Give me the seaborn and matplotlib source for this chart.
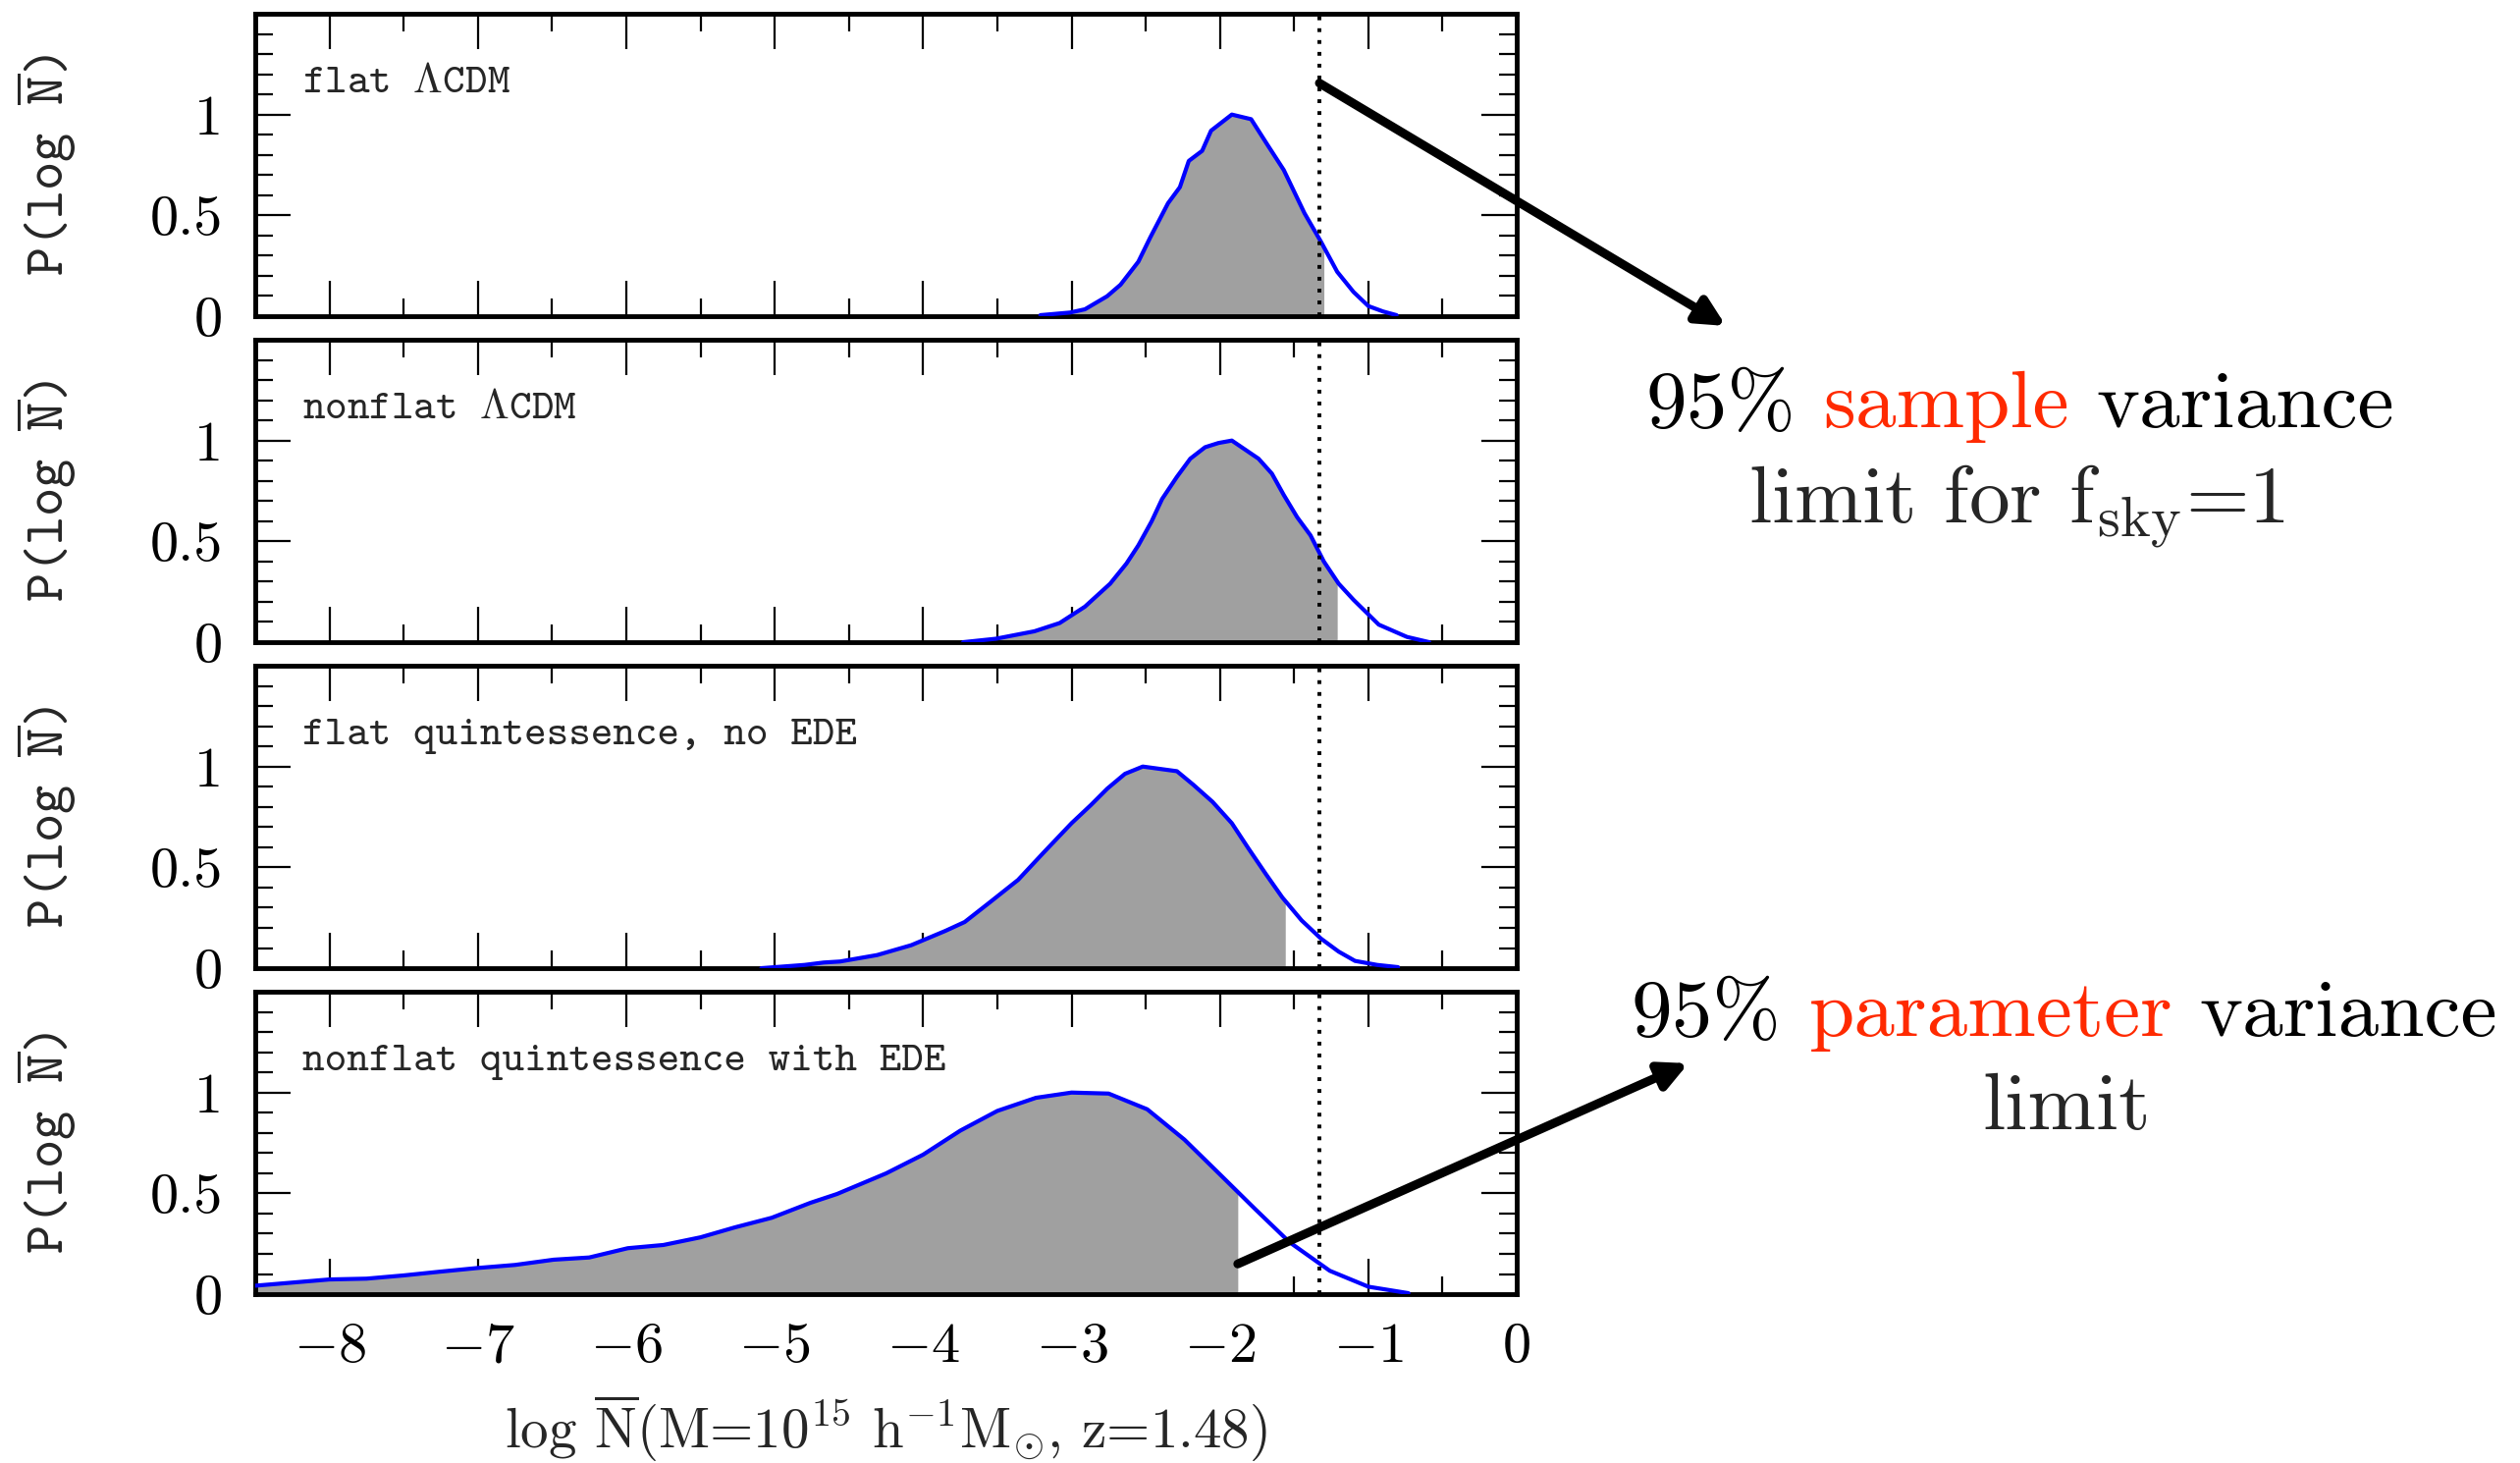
"""
Probability of log N-bar for four dark-energy models, with the
95% sample- and parameter-variance limits marked.
"""
import numpy as np
import matplotlib
matplotlib.use("Agg")
import matplotlib.pyplot as plt
from matplotlib.ticker import MultipleLocator
import seaborn as sns

# curves (x = log N-bar, p = normalised probability)
X_FLAT_LCDM = [-3.21, -3.01, -2.91, -2.76, -2.67, -2.55, -2.47, -2.35, -2.27, -2.21, -2.12,
               -2.06, -1.92, -1.79, -1.68, -1.57, -1.43, -1.32, -1.21, -1.10, -1.00, -0.90, -0.81]
P_FLAT_LCDM = [0.005, 0.018, 0.034, 0.099, 0.156, 0.27, 0.39, 0.56, 0.64, 0.77, 0.82,
               0.92, 1.0, 0.977, 0.85, 0.725, 0.51, 0.37, 0.22, 0.12, 0.05, 0.023, 0.005]

X_NONFLAT_LCDM = [-3.73, -3.51, -3.25, -3.08, -2.91, -2.74, -2.63, -2.55, -2.46, -2.39, -2.29, -2.20, -2.10,
                  -2.01, -1.92, -1.74, -1.65, -1.57, -1.48, -1.39, -1.30, -1.20, -1.10, -0.93, -0.74, -0.59]
P_NONFLAT_LCDM = [0.0, 0.017, 0.054, 0.095, 0.176, 0.29, 0.39, 0.48, 0.60, 0.71, 0.82, 0.91, 0.967,
                  0.988, 1.0, 0.91, 0.836, 0.73, 0.62, 0.53, 0.40, 0.29, 0.21, 0.087, 0.026, 0.0]

X_FLAT_QUINT = [-5.09, -4.80, -4.67, -4.56, -4.31, -4.08, -3.85, -3.72, -3.55, -3.36, -3.19, -3.00, -2.87,
                -2.76, -2.64, -2.52, -2.29, -2.18, -2.05, -1.92, -1.81, -1.69, -1.58, -1.45, -1.32, -1.20,
                -1.09, -0.94, -0.80]
P_FLAT_QUINT = [0.0, 0.016, 0.028, 0.033, 0.065, 0.114, 0.185, 0.229, 0.327, 0.438, 0.572, 0.719, 0.809,
                0.89, 0.964, 1.0, 0.977, 0.91, 0.825, 0.719, 0.596, 0.466, 0.351, 0.237, 0.147, 0.082,
                0.036, 0.016, 0.005]

X_EDE = [-8.5, -8.0, -7.75, -7.5, -7.25, -7.0, -6.75, -6.49, -6.25, -5.99, -5.75, -5.5, -5.27, -5.02,
         -4.76, -4.58, -4.25, -4.0, -3.75, -3.5, -3.24, -3.0, -2.75, -2.49, -2.24, -2.0, -1.76, -1.53,
         -1.26, -1.0, -0.73]
P_EDE = [0.042, 0.073, 0.077, 0.093, 0.112, 0.130, 0.145, 0.171, 0.182, 0.228, 0.244, 0.282, 0.331, 0.379,
         0.453, 0.497, 0.599, 0.692, 0.811, 0.909, 0.974, 1.0, 0.995, 0.917, 0.767, 0.594, 0.420, 0.257,
         0.116, 0.037, 0.005]

CURVES = [(X_FLAT_LCDM, P_FLAT_LCDM), (X_NONFLAT_LCDM, P_NONFLAT_LCDM),
          (X_FLAT_QUINT, P_FLAT_QUINT), (X_EDE, P_EDE)]
SHADE_END = [-1.30, -1.21, -1.56, -1.88]   # 95% parameter-variance limit per model
SAMPLE_LIMIT = -1.33                        # 95% sample-variance limit (f_sky = 1)

PANEL_LABELS = [r"flat $\Lambda$CDM", r"nonflat $\Lambda$CDM",
                "flat quintessence, no EDE", "nonflat quintessence with EDE"]
X_TICKS = [-8, -7, -6, -5, -4, -3, -2, -1, 0]
X_TICK_LABELS = ["$-8$", "$-7$", "$-6$", "$-5$", "$-4$", "$-3$", "$-2$", "$-1$", "0"]
Y_TICKS = [0, 0.5, 1]
Y_TICK_LABELS = ["0", "0.5", "1"]

BLUE = "#0000ff"
GREY = "#a0a0a0"
RED = "#ff2a00"


def colored_line(fig, xc, yb, words, size):
    """Write words left to right, each in its own colour, centred on xc."""
    r = fig.canvas.get_renderer()
    kw = dict(fontsize=size, fontfamily="cmr10", va="baseline", ha="left")

    def width(s):
        t = fig.text(0, 0, s, **kw)
        w = t.get_window_extent(r).width
        t.remove()
        return w

    gap = width("a a") - width("aa")
    ws = [width(s) for s, _ in words]
    W = fig.bbox.width
    x = xc * W - (sum(ws) + gap * (len(words) - 1)) / 2
    for (s, c), w in zip(words, ws):
        fig.text(x / W, yb, s, color=c, **kw)
        x += w + gap


def main():
    sns.set_theme(style="ticks")
    plt.rcParams.update({
        "font.family": ["cmr10", "DejaVu Serif"],
        "mathtext.fontset": "cm",
        "axes.linewidth": 3.5,
        "axes.edgecolor": "black",
        "xtick.direction": "in", "ytick.direction": "in",
        "xtick.top": True, "ytick.right": True,
        "xtick.major.size": 26, "ytick.major.size": 26,
        "xtick.minor.size": 13, "ytick.minor.size": 13,
        "xtick.major.width": 1.6, "ytick.major.width": 1.6,
        "xtick.minor.width": 1.6, "ytick.minor.width": 1.6,
        "xtick.color": "black", "ytick.color": "black",
        "xtick.major.pad": 21, "ytick.major.pad": 24,
    })

    fig, axes = plt.subplots(4, 1, sharex=True, figsize=(25.67, 14.90), dpi=100)
    fig.subplots_adjust(left=0.1013, right=0.6019, top=0.9906, bottom=0.1154, hspace=0.078)

    for ax, (xs, ps), end, label in zip(axes, CURVES, SHADE_END, PANEL_LABELS):
        xs = np.asarray(xs)
        ps = np.asarray(ps)
        keep = xs < end
        fx = np.append(xs[keep], end)
        fp = np.append(ps[keep], np.interp(end, xs, ps))
        ax.fill_between(fx, fp, color=GREY, lw=0, zorder=1)
        sns.lineplot(x=xs, y=ps, ax=ax, color=BLUE, linewidth=3, zorder=3)
        ax.axvline(SAMPLE_LIMIT, color="black", lw=2.8, linestyle=(0, (1, 2.1)), zorder=4)

        ax.set_xlim(-8.5, 0)
        ax.set_ylim(0, 1.5)
        ax.set_xticks(X_TICKS)
        ax.set_yticks(Y_TICKS)
        ax.set_yticklabels(Y_TICK_LABELS, fontsize=42)
        ax.xaxis.set_minor_locator(MultipleLocator(0.5))
        ax.yaxis.set_minor_locator(MultipleLocator(0.1))
        ax.set_ylabel(r"P(log $\overline{\mathtt{N}}$)", fontfamily="cmtt10", fontsize=40)
        ax.yaxis.set_label_coords(-0.14, 0.5)
        ax.text(0.037, 0.765, label, transform=ax.transAxes, fontfamily="cmtt10",
                fontsize=31, va="center", ha="left")

    axes[-1].set_xticklabels(X_TICK_LABELS, fontsize=42)
    axes[-1].set_xlabel(r"log $\overline{\rm N}$(M=10$^{15}$ h$^{-1}$M$_{\odot}$, z=1.48)",
                        fontsize=41, va="baseline")
    axes[-1].xaxis.set_label_coords(0.5, -0.505)

    arrow = dict(arrowstyle="-|>", color="black", lw=6.5, mutation_scale=42,
                 shrinkA=0, shrinkB=0)
    axes[0].annotate("", xy=(0.6849, 0.7772), xycoords="figure fraction",
                     xytext=(SAMPLE_LIMIT, 1.156), textcoords="data",
                     arrowprops=arrow, annotation_clip=False)
    axes[-1].annotate("", xy=(0.6700, 0.2732), xycoords="figure fraction",
                      xytext=(SHADE_END[-1], 0.15), textcoords="data",
                      arrowprops=arrow, annotation_clip=False)

    colored_line(fig, 0.8017, 0.7081, [("95%", "black"), ("sample", RED), ("variance", "black")], 60)
    fig.text(0.8005, 0.6430, r"limit for f$_{\rm sky}$=1", fontsize=60, fontfamily="cmr10",
             ha="center", va="baseline")
    colored_line(fig, 0.8193, 0.2919, [("95%", "black"), ("parameter", RED), ("variance", "black")], 60)
    fig.text(0.8200, 0.2282, "limit", fontsize=60, fontfamily="cmr10", ha="center", va="baseline")

    fig.savefig("out.png", dpi=100)
    plt.close(fig)


if __name__ == "__main__":
    main()
